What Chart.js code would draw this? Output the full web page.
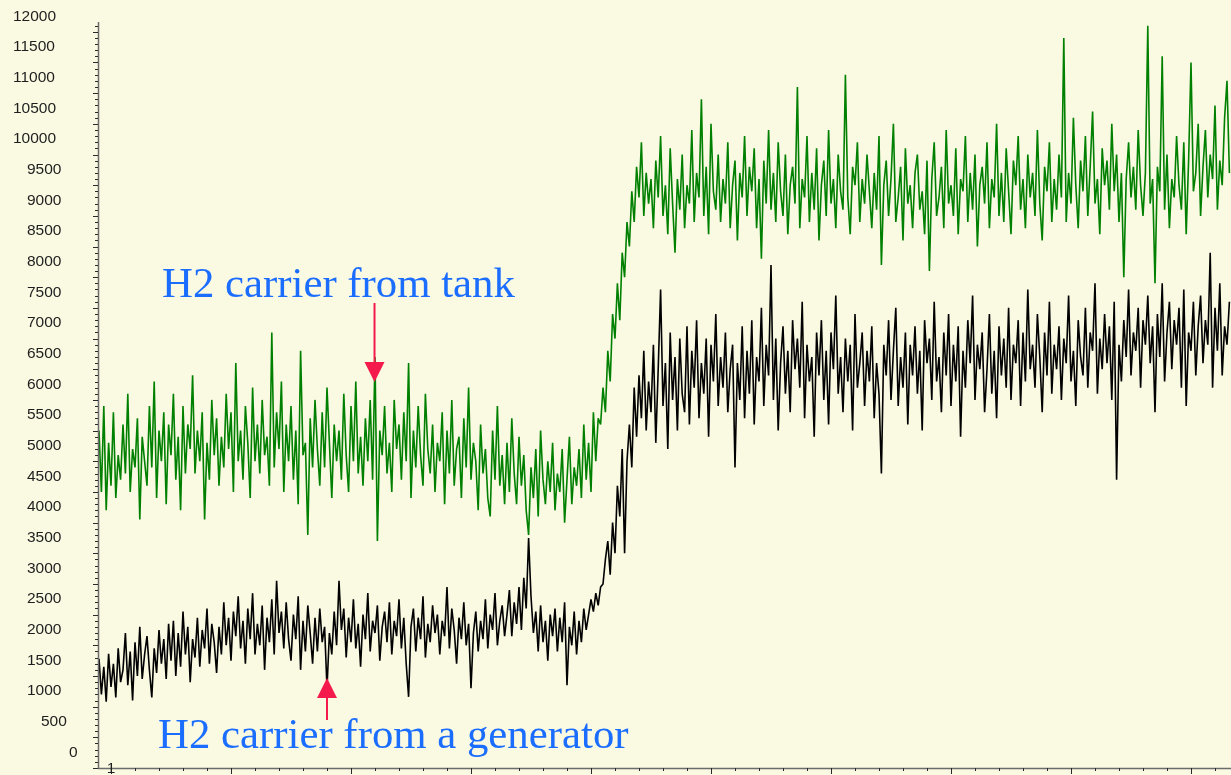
<!DOCTYPE html>
<html>
<head>
<meta charset="utf-8">
<script src="https://cdn.jsdelivr.net/npm/chart.js@4.4.1/dist/chart.umd.min.js"></script>
<style>
  html, body { margin: 0; padding: 0; background: #FAF9E2; }
  #wrap { width: 1231px; height: 775px; position: relative; }
  canvas { display: block; }
</style>
</head>
<body>
<div id="wrap"><canvas id="c" width="1231" height="775"></canvas></div>
<script>
// Sample numbering: the first stored value belongs to sample -4.
const firstSample = -4;

// Y axis tick values and their labels
const yTickValues = [0, 500, 1000, 1500, 2000, 2500, 3000, 3500, 4000, 4500, 5000, 5500, 6000,
  6500, 7000, 7500, 8000, 8500, 9000, 9500, 10000, 10500, 11000, 11500, 12000];
const yTickLabels = ['0', '500', '1000', '1500', '2000', '2500', '3000', '3500', '4000', '4500', '5000', '5500', '6000',
  '6500', '7000', '7500', '8000', '8500', '9000', '9500', '10000', '10500', '11000', '11500', '12000'];

// X axis: only the first sample carries a label
const xLabelSamples = [1];
const xTickLabels = ['1'];

// Signal with the H2 carrier gas from a generator
const generatorSignal = [
  1780,1200,1650,1080,1860,1320,1700,1150,1950,1400,
  1600,2200,1350,1900,1100,2050,1500,2300,1450,1850,
  2150,1600,1150,1950,1550,2250,1700,2100,1450,2350,
  1750,2400,1500,2200,1650,2550,1850,2300,1400,2100,
  1800,2450,1650,2250,1950,2600,1700,2350,2050,1550,
  2300,1850,2700,2000,2450,1750,2550,2150,2800,1950,
  2400,1700,2600,2100,2850,1850,2350,2000,2650,1600,
  2450,2050,2750,1850,3050,2200,2550,1950,2700,2100,
  1750,2500,2100,2800,1600,2400,1900,2650,2200,1700,
  2450,1900,2600,2050,2300,1300,2200,1850,2550,2000,
  3050,2250,2600,1800,2450,2050,2750,1950,2350,1650,
  2500,2100,2850,1900,2400,2200,2650,1750,2300,2550,
  2050,2700,1850,2400,2150,2750,1950,2450,1700,1160,
  2300,2600,1900,2450,2100,2800,1800,2350,2050,2650,
  2200,2500,1850,2400,2150,2950,1950,2600,2250,1700,
  2450,2100,2700,2000,2350,1300,2200,2550,1900,2400,
  2100,2750,1950,2500,2250,2850,2000,2400,2650,2150,
  2500,2900,2150,2700,2350,2950,2250,3100,2600,3750,
  2800,2200,2550,1900,2650,2050,2400,1750,2500,2150,
  2600,1900,2450,2050,2700,1350,2300,2000,2550,1850,
  2400,2050,2600,2250,2500,2750,2550,2850,2650,2950,
  3000,3400,3700,3150,4000,3500,4600,4100,5200,3500,
  5000,5600,4900,6200,5400,6400,5700,6800,5500,6300,
  5800,6900,5300,6500,7800,5900,6600,5200,7100,6000,
  6700,5500,7000,6100,5800,7200,5600,6800,6200,7300,
  5700,6600,6100,7000,5400,6900,6300,7400,5900,6700,
  6200,7100,5800,6500,6900,4900,6600,6000,7200,5700,
  6800,6100,7300,5600,6700,6300,7500,5900,6900,6400,
  8200,6000,7000,5500,6600,7200,6100,6800,5800,7300,
  6500,7000,6200,7600,5700,6900,6300,6700,5400,7100,
  6400,7300,6000,6800,5600,7100,6500,7700,6100,6700,
  5800,7000,6300,6900,5500,7400,6200,6600,7100,5900,
  6800,6300,7200,5700,6600,6100,4800,6900,6400,7300,
  6000,6800,7500,5900,6700,6200,7100,5600,6900,6400,
  7200,6100,6800,5500,7300,6600,7000,6000,7600,6300,
  6700,5800,7100,6400,7400,5900,6900,6300,7200,5400,
  6800,6200,7300,6600,7700,6000,6900,6500,7100,5800,
  6500,7400,6100,6800,5700,7200,6400,7000,6200,7500,
  6000,6900,6600,7300,5900,7100,6300,7800,6500,6900,
  6200,7400,6700,5800,7100,6400,7600,6100,6900,6500,
  7200,6000,7000,6600,7700,6300,6800,5900,7300,6700,
  6400,7500,6200,7100,6800,7900,6100,7000,6500,7400,
  6600,7200,6000,7600,4700,6900,6300,7300,6700,7800,
  6400,7100,6800,7500,6200,7300,6900,7700,6600,7200,
  5800,7400,6700,7900,6300,7100,7600,6500,7300,6900,
  7500,6200,7800,5900,7100,6800,7600,6400,7200,7700,
  6600,7300,6900,8400,6200,7500,6800,7900,6400,7200,
  6900,7600
];

// Signal with the H2 carrier gas from a tank
const tankSignal = [
  5500,4500,5900,4200,5300,4600,5800,4400,5100,4700,
  5600,4800,6100,4500,5200,4900,5700,4050,5400,5000,
  4600,5900,4900,6300,4400,5500,5000,5800,4300,5600,
  5100,6100,4700,5400,4200,5900,4800,5600,5200,6400,
  4800,5500,5000,5800,4050,5300,4700,6000,5100,5700,
  4600,5400,4900,6100,5200,5800,4500,6600,5000,5500,
  4700,5900,5300,4400,6200,5000,5600,4800,6000,5100,
  5400,4600,7100,4900,5800,5200,6300,4500,5600,5000,
  5900,4700,5500,4300,6800,5100,5300,3800,5700,4900,
  6000,5200,4600,5800,4900,6200,5300,4400,5600,5000,
  5500,4700,6100,5100,4500,5900,5000,6300,4800,5400,
  4600,5700,5000,6000,4700,6700,3700,5500,5100,5900,
  4800,5300,4500,6000,5200,5600,4700,5800,5000,6600,
  4400,5500,4900,5900,5100,4600,6100,5200,4800,5600,
  4500,5300,5000,5800,4300,5500,4800,6000,4600,5200,
  5400,4400,5700,4900,6200,4700,5300,5000,4200,5600,
  4800,5200,4400,4100,5500,4700,5900,4600,5100,4300,
  5300,4500,5700,4800,4300,5400,4600,5100,4200,3800,
  4900,4400,5200,4100,5500,4700,4300,5000,4500,5300,
  4200,4800,4500,5200,4000,4700,5400,4300,4900,4600,
  5200,4400,5600,4700,5300,4500,5800,5000,5700,5600,
  6200,5800,6800,6300,7400,7000,7900,7300,8400,8000,
  8900,8500,9400,8900,9800,9300,10200,9000,9700,9200,
  9600,8800,9900,9300,10300,9000,9500,8700,10100,9200,
  8400,9600,9100,10000,8800,9500,9200,10400,8900,9700,
  9300,10900,9000,9800,8700,10500,9400,9100,10000,8900,
  9600,9200,10200,8800,9500,9900,8600,9700,9300,10300,
  9000,9800,9400,10100,8800,9600,8300,9900,9200,10400,
  9100,9700,8900,10200,9400,9000,10000,8700,9500,9800,
  9200,11100,8800,9600,9300,10300,8900,9700,9100,10100,
  8600,9500,9900,9000,10400,9200,9600,8800,10000,9400,
  9100,11300,9300,8700,9800,9500,10200,8900,9600,9200,
  10000,9400,8800,9700,9100,10300,8200,9500,9900,9000,
  9600,10500,8900,9300,9800,8600,10100,9200,9500,8800,
  9700,10000,9100,9400,8700,9900,8100,9600,10200,9000,
  9300,9800,8800,10400,9200,9500,9000,10100,8700,9600,
  9400,10300,8900,9700,9100,10000,8500,9500,9800,9200,
  10200,8800,9600,9300,10500,9000,9700,8900,10100,9400,
  8700,9900,9500,10300,9100,9600,8800,10000,9300,9700,
  9000,10400,9200,8600,9800,9400,10200,8900,9600,9100,
  10000,9300,11900,8900,9700,9200,10600,9500,8800,9900,
  9400,10300,9000,9800,10700,9200,9600,8700,10100,9500,
  9900,9100,10500,9400,10000,8900,9700,8000,9600,10200,
  9300,9800,9100,10400,9500,9000,9700,12100,9200,9600,
  7900,9800,9400,11600,9100,10000,8800,9600,9300,10300,
  9500,9100,10200,8700,9900,11500,9400,9700,10500,9000,
  9800,10400,9300,10000,9600,10800,9100,9900,9500,10600,
  11200,9700
];

// Annotations, placed in data units (sample, value)
const notes = [
  { text: 'H2 carrier from tank', x: 22.25, y: 7680 },
  { text: 'H2 carrier from a generator', x: 20.6, y: 326 }
];
// Arrows: tail -> tip, in data units
const arrows = [
  { x: 110.8, from: 7580, to: 6292 },
  { x: 91.0, from: 782, to: 1467 }
];

const BG = '#FAF9E2';
const NOTE_BLUE = '#1A6DFF';
const ARROW_RED = '#F41A4B';

function toPoints(values) {
  return values.map((v, i) => ({ x: firstSample + i, y: v }));
}

const framePlugin = {
  id: 'frame',
  beforeDraw(chart) {
    const ctx = chart.ctx;
    ctx.save();
    ctx.fillStyle = BG;
    ctx.fillRect(0, 0, chart.width, chart.height);
    ctx.restore();
  },
  afterDraw(chart) {
    const { ctx, chartArea: a, scales: { x, y } } = chart;
    ctx.save();

    // axis lines
    ctx.strokeStyle = '#6c6c6c';
    ctx.lineWidth = 1.5;
    ctx.beginPath();
    ctx.moveTo(a.left + 0.5, a.top);
    ctx.lineTo(a.left + 0.5, a.bottom + 1);
    ctx.moveTo(a.left, a.bottom + 0.5);
    ctx.lineTo(a.right, a.bottom + 0.5);
    ctx.stroke();

    // y ticks: minor every 100, major every 500
    ctx.strokeStyle = '#2a2a2a';
    ctx.lineWidth = 1;
    ctx.beginPath();
    for (let v = 0; v <= y.max; v += 100) {
      const py = Math.round(y.getPixelForValue(v)) + 0.5;
      const len = (v % 500 === 0) ? 5 : 3;
      ctx.moveTo(a.left - len, py);
      ctx.lineTo(a.left, py);
    }
    // x ticks: minor every 10 samples, major every 50, counted from sample 1
    for (let s = 1; s <= x.max; s += 10) {
      const px = Math.round(x.getPixelForValue(s)) + 0.5;
      const len = ((s - 1) % 50 === 0) ? 6 : 3;
      ctx.moveTo(px, a.bottom);
      ctx.lineTo(px, a.bottom + len);
    }
    ctx.stroke();

    // y labels sit half a step above their ticks
    ctx.fillStyle = '#1e1e1e';
    ctx.font = '15.5px "Liberation Sans", Arial, sans-serif';
    ctx.textBaseline = 'middle';
    ctx.textAlign = 'left';
    yTickValues.forEach((v, i) => {
      const label = yTickLabels[i];
      const py = y.getPixelForValue(v) - 15.5;
      const lx = 13 + 14 * (5 - label.length);
      ctx.fillText(label, lx, py);
    });

    // x labels
    ctx.textAlign = 'center';
    ctx.textBaseline = 'alphabetic';
    xLabelSamples.forEach((s, i) => {
      ctx.fillText(xTickLabels[i], x.getPixelForValue(s), a.bottom + 5);
    });

    // annotation texts
    ctx.fillStyle = NOTE_BLUE;
    ctx.font = '42.8px "Liberation Serif", "Times New Roman", serif';
    ctx.textAlign = 'left';
    notes.forEach(n => {
      ctx.fillText(n.text, x.getPixelForValue(n.x), y.getPixelForValue(n.y));
    });

    // arrows
    ctx.strokeStyle = ARROW_RED;
    ctx.fillStyle = ARROW_RED;
    ctx.lineWidth = 2;
    arrows.forEach(ar => {
      const px = x.getPixelForValue(ar.x);
      const y0 = y.getPixelForValue(ar.from);
      const y1 = y.getPixelForValue(ar.to);
      const dir = Math.sign(y1 - y0);
      const headLen = 20, half = 10;
      ctx.beginPath();
      ctx.moveTo(px, y0);
      ctx.lineTo(px, y1 - dir * headLen);
      ctx.stroke();
      ctx.beginPath();
      ctx.moveTo(px - half, y1 - dir * headLen);
      ctx.lineTo(px + half, y1 - dir * headLen);
      ctx.lineTo(px, y1);
      ctx.closePath();
      ctx.fill();
    });

    ctx.restore();
  }
};

new Chart(document.getElementById('c'), {
  type: 'line',
  data: {
    datasets: [
      {
        label: 'H2 carrier from a generator',
        data: toPoints(generatorSignal),
        borderColor: '#000000',
        borderWidth: 1.6,
        borderJoinStyle: 'bevel',
        pointRadius: 0,
        tension: 0,
        fill: false
      },
      {
        label: 'H2 carrier from tank',
        data: toPoints(tankSignal),
        borderColor: '#008000',
        borderWidth: 1.6,
        borderJoinStyle: 'bevel',
        pointRadius: 0,
        tension: 0,
        fill: false
      }
    ]
  },
  options: {
    responsive: false,
    animation: false,
    devicePixelRatio: 1,
    layout: { padding: { left: 98, right: 0, top: 22, bottom: 7 } },
    scales: {
      x: { type: 'linear', min: -4.4167, max: 467.667, display: false },
      y: { type: 'linear', min: 0, max: 12160, display: false }
    },
    plugins: {
      legend: { display: false },
      tooltip: { enabled: false }
    }
  },
  plugins: [framePlugin]
});
</script>
</body>
</html>
